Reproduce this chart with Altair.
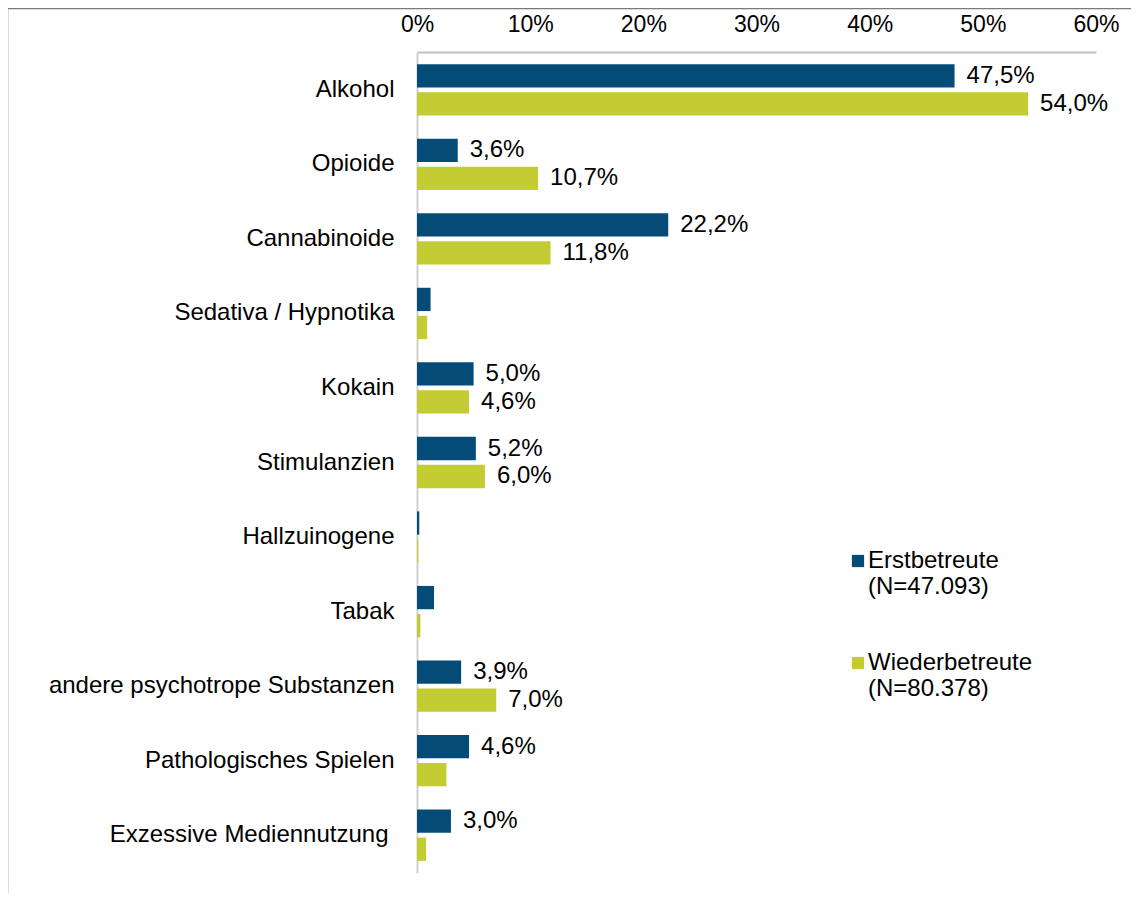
import altair as alt
import pandas as pd

categories = [
    "Alkohol", "Opioide", "Cannabinoide", "Sedativa / Hypnotika", "Kokain",
    "Stimulanzien", "Hallzuinogene", "Tabak", "andere psychotrope Substanzen",
    "Pathologisches Spielen", "Exzessive Mediennutzung",
]
erst = [47.5, 3.6, 22.2, 1.2, 5.0, 5.2, 0.2, 1.5, 3.9, 4.6, 3.0]
wieder = [54.0, 10.7, 11.8, 0.9, 4.6, 6.0, 0.1, 0.3, 7.0, 2.6, 0.8]
erst_show = [True, True, True, False, True, True, False, False, True, True, True]
wieder_show = [True, True, True, False, True, True, False, False, True, False, False]
series = ["Erstbetreute|(N=47.093)", "Wiederbetreute|(N=80.378)"]
colors = ["#044C77", "#C4CC33"]
x_ticks = [0, 10, 20, 30, 40, 50, 60]

FONT = "Liberation Sans"
FS = 24

rows = []
for cat, e, w, es, ws in zip(categories, erst, wieder, erst_show, wieder_show):
    for s, v, show in ((series[0], e, es), (series[1], w, ws)):
        lab = (f"{v:.1f}".replace(".", ",") + "%") if show else ""
        rows.append({"category": cat, "series": s, "value": v, "label": lab})
df = pd.DataFrame(rows)

y_enc = alt.Y(
    "category:N", sort=categories,
    scale=alt.Scale(paddingInner=0.312, paddingOuter=0.163),
    axis=alt.Axis(title=None, ticks=False, domainColor="#d0d0d0", domainWidth=2,
                  labelFontSize=FS, labelColor="black",
                  labelPadding={"condition": {"test": "datum.value == 'Exzessive Mediennutzung'",
                                              "value": 29}, "value": 23},
                  labelFont=FONT, labelLimit=600),
)
x_enc = alt.X(
    "value:Q", scale=alt.Scale(domain=[0, 60], nice=False, zero=True),
    axis=alt.Axis(orient="top", values=x_ticks, labelExpr="datum.value + '%'",
                  ticks=False, grid=False, domainColor="#c0c0c0", domainWidth=2,
                  title=None, labelFontSize=23, labelPadding=16, labelColor="black",
                  labelFont=FONT, labelFlush=False),
)
yoff = alt.YOffset("series:N", sort=series,
                   scale=alt.Scale(paddingInner=0.168, paddingOuter=0))

bars = alt.Chart(df).mark_bar().encode(
    y=y_enc, x=x_enc, yOffset=yoff,
    color=alt.Color(
        "series:N", sort=series,
        scale=alt.Scale(domain=series, range=colors),
        legend=alt.Legend(
            orient="none", legendX=429, legendY=497, title=None,
            symbolType="square", symbolSize=150, symbolStrokeWidth=0,
            labelFontSize=FS, labelFont=FONT, labelColor="black",
            labelExpr="split(datum.label, '|')", rowPadding=52,
            labelOffset={"expr": "-2"}, labelLimit=400,
        ),
    ),
)

labels = alt.Chart(df).mark_text(
    align="left", baseline="middle", dx=12, fontSize=FS, font=FONT, color="black"
).encode(y=alt.Y("category:N", sort=categories), x="value:Q",
         yOffset=alt.YOffset("series:N", sort=series), text="label:N")

frame = alt.Chart(pd.DataFrame({"f": [0]})).mark_rect(
    filled=False, stroke="#7a7a7a", strokeWidth=1.5, clip=False
).encode(x=alt.value(-409.5), x2=alt.value(760), y=alt.value(-43.5), y2=alt.value(900))

chart = alt.layer(frame, bars, labels).properties(
    width=679, height=821,
    autosize=alt.AutoSizeParams(type="none"),
    padding={"left": 409, "top": 44, "right": 35, "bottom": 20},
).configure(font=FONT).configure_view(strokeWidth=0, stroke="transparent")

chart.save("out.html", embed_options={"renderer": "svg", "actions": False})
